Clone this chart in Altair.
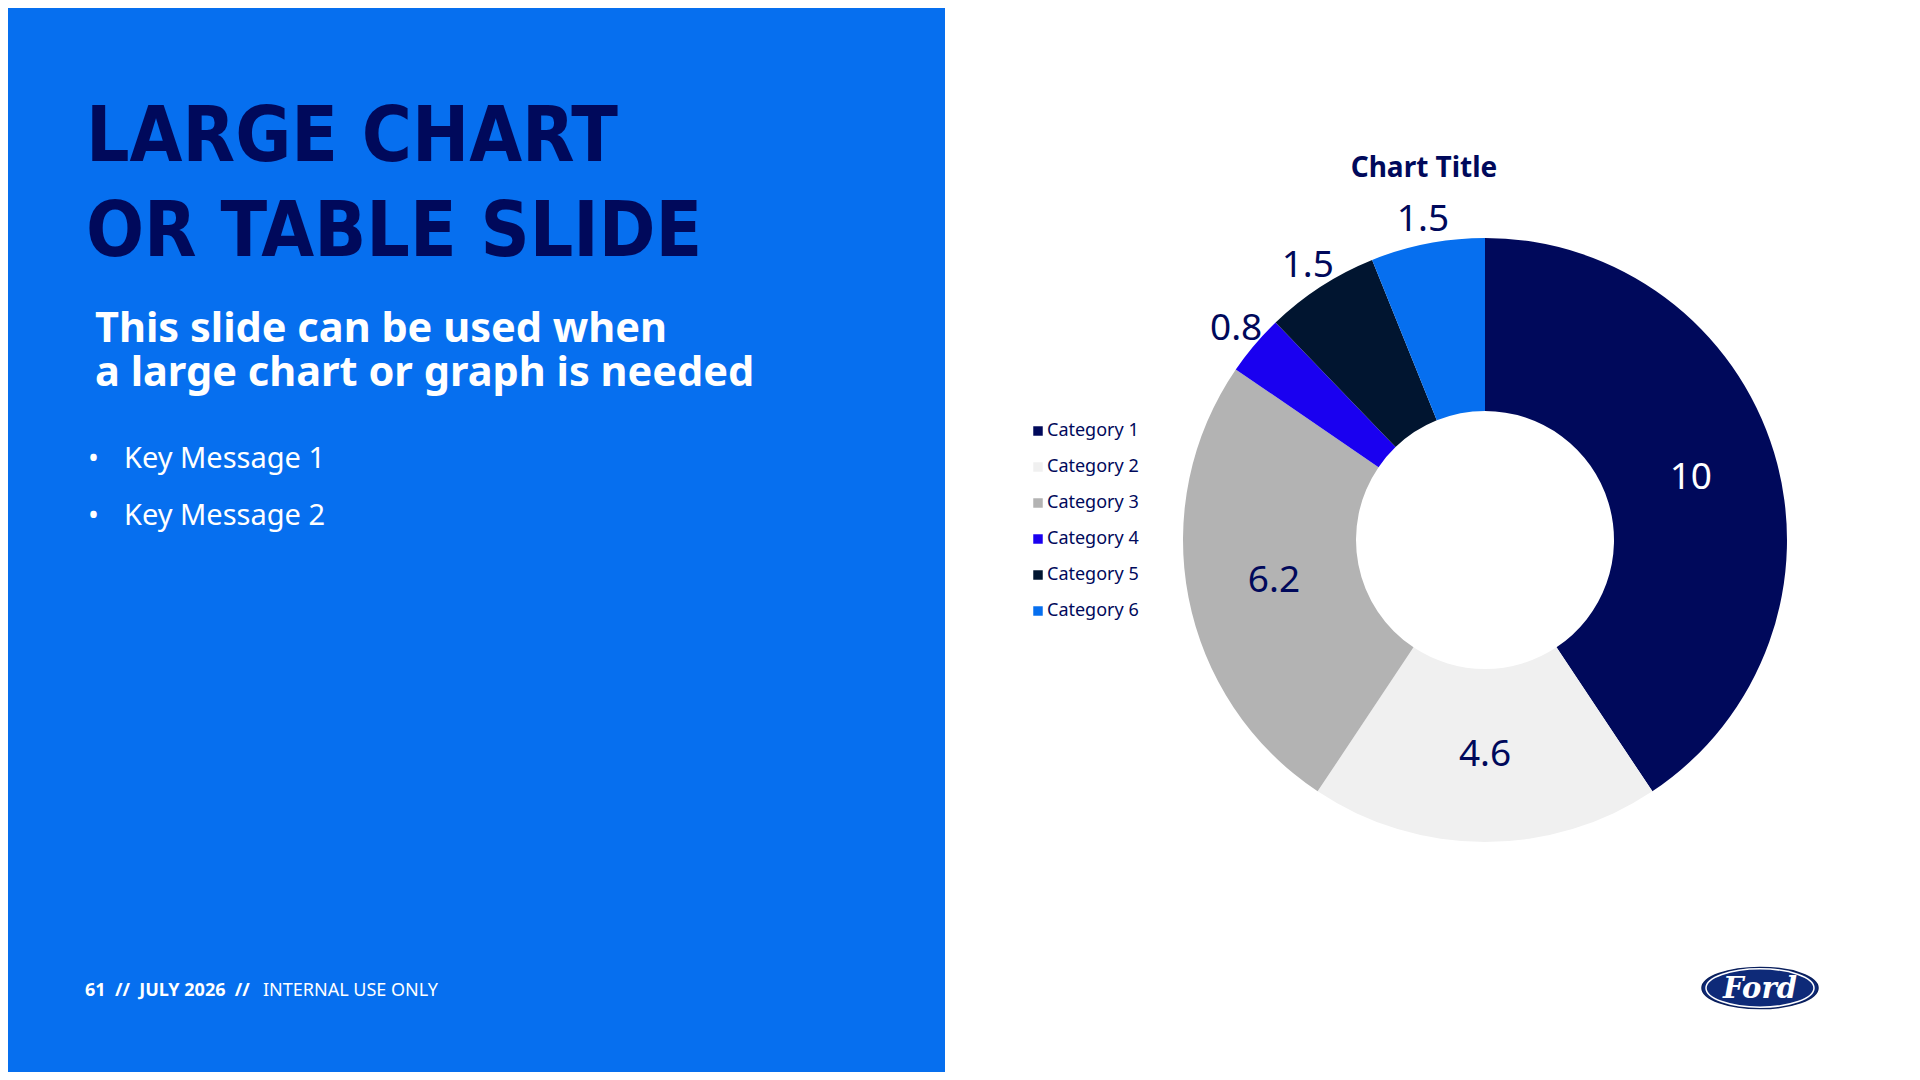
import altair as alt
import pandas as pd

# ---------------- data ----------------
categories = ["Category 1", "Category 2", "Category 3", "Category 4", "Category 5", "Category 6"]
values = [10, 4.6, 6.2, 0.8, 1.5, 1.5]
labels = ["10", "4.6", "6.2", "0.8", "1.5", "1.5"]
colors = ["#00095B", "#F0F0F0", "#B3B3B3", "#1A00F0", "#011530", "#066FEF"]

title_lines = ["LARGE CHART", "OR TABLE SLIDE"]
subtitle_lines = ["This slide can be used when", "a large chart or graph is needed"]
bullets = ["Key Message 1", "Key Message 2"]
NB = "\u00a0"
footer_bold = f"61{NB}{NB}//{NB}{NB}JULY 2026{NB}{NB}//"
footer_regular = "INTERNAL USE ONLY"
chart_title = "Chart Title"

NAVY = "#00095B"
PANEL = "#066FEF"
FONT = "Noto Sans"
TITLE_FONT = "DejaVu Sans Condensed, Roboto, sans-serif"

df = pd.DataFrame({"category": categories, "value": values, "label": labels,
                   "idx": list(range(len(categories)))})

W, H = 1904, 1064
CX, CY = 1477, 532


def txt(s, x, y, size, color, weight="normal", font=FONT, align="left",
        baseline="alphabetic", style="normal"):
    return alt.Chart(pd.DataFrame({"t": [s]})).mark_text(
        align=align, baseline=baseline, fontSize=size, font=font,
        fontWeight=weight, color=color, fontStyle=style
    ).encode(text="t:N", x=alt.value(x), y=alt.value(y))


one = pd.DataFrame({"a": [0]})

panel = alt.Chart(one).mark_rect(color=PANEL).encode(
    x=alt.value(0), x2=alt.value(937), y=alt.value(0), y2=alt.value(H)
)

donut = alt.Chart(df).mark_arc(outerRadius=302, innerRadius=129).encode(
    theta=alt.Theta("value:Q", stack=True),
    order=alt.Order("idx:Q", sort="ascending"),
    x=alt.value(CX), y=alt.value(CY),
    color=alt.Color(
        "category:N",
        scale=alt.Scale(domain=categories, range=colors),
        legend=alt.Legend(
            orient="none", legendX=1021, legendY=414, title=None,
            symbolType="square", symbolSize=90, symbolStrokeWidth=0,
            labelFontSize=18, labelFont=FONT, labelColor=NAVY,
            rowPadding=18, labelOffset=0, padding=0,
        ),
    ),
)

value_labels = alt.Chart(df).transform_window(
    cum="sum(value)", sort=[alt.SortField("idx", order="ascending")], frame=[None, 0]
).transform_calculate(
    mid="datum.cum - datum.value / 2",
    r="datum.value < 2 ? 326 : 215",
).mark_text(fontSize=37, font=FONT, align="center", baseline="middle").encode(
    theta=alt.Theta("mid:Q", stack=None),
    x=alt.value(CX), y=alt.value(CY),
    radius=alt.Radius("r:Q", scale=None),
    text="label:N",
    color=alt.condition("datum.idx == 0", alt.value("white"), alt.value(NAVY)),
)

# Ford-like oval logo
ELLIPSE = "M-1,0A1,0.355,0,1,1,1,0A1,0.355,0,1,1,-1,0Z"
logo_outer = alt.Chart(one).mark_point(
    shape=ELLIPSE, filled=True, size=116 * 116, color="#0E2A78", opacity=1,
    stroke="#0A1F5C", strokeWidth=1.5
).encode(x=alt.value(1752), y=alt.value(980))
logo_ring = alt.Chart(one).mark_point(
    shape=ELLIPSE, filled=False, size=108 * 108, color="white", opacity=1,
    strokeWidth=1.5
).encode(x=alt.value(1752), y=alt.value(980))
logo_text = txt("Ford", 1752, 981, 29, "white", weight="bold",
                font="DejaVu Serif", align="center", baseline="middle", style="italic")

layers = [
    panel,
    txt(title_lines[0], 78, 153, 76, NAVY, weight=900, font=TITLE_FONT),
    txt(title_lines[1], 78, 248, 76, NAVY, weight=900, font=TITLE_FONT),
    txt(subtitle_lines[0], 87, 334, 41.5, "white", weight="bold"),
    txt(subtitle_lines[1], 87, 378, 41.5, "white", weight="bold"),
    txt("•", 80, 460, 29, "white"),
    txt(bullets[0], 116, 460, 29, "white"),
    txt("•", 80, 517, 29, "white"),
    txt(bullets[1], 116, 517, 29, "white"),
    txt(footer_bold, 77, 988, 18, "white", weight="bold"),
    txt(footer_regular, 255, 988, 18, "white"),
    txt(chart_title, 1416, 161, 28, NAVY, weight="bold", align="center", baseline="middle"),
    donut,
    value_labels,
    logo_outer,
    logo_ring,
    logo_text,
]

chart = alt.layer(*layers).properties(
    width=W, height=H, padding=0,
    autosize=alt.AutoSizeParams(type="none"),
    background="white",
).configure_view(stroke=None)

chart.save("out.html", embed_options={"renderer": "svg", "actions": False})
